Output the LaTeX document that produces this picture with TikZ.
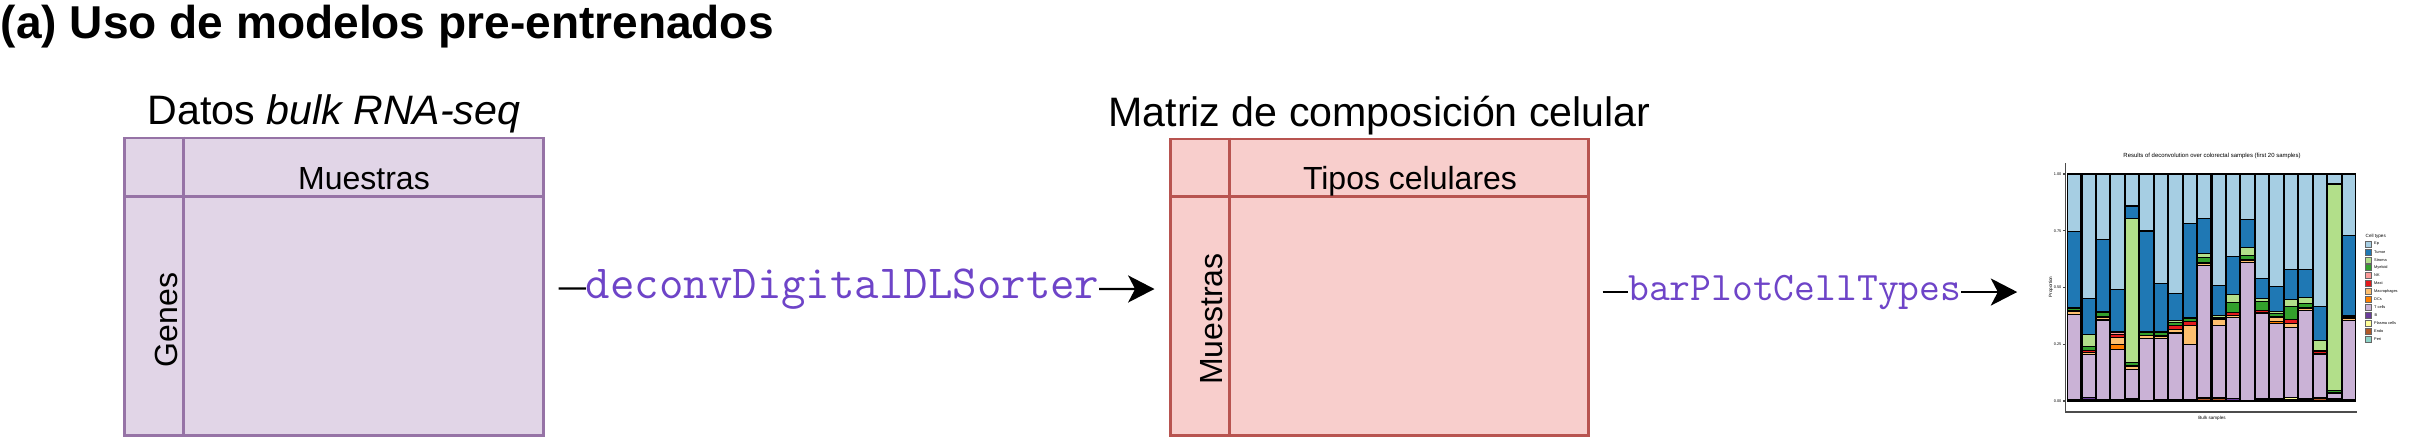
\documentclass[tikz,border=0pt]{standalone}
\usepackage{fontspec}
\setmainfont{Liberation Sans}
\usetikzlibrary{arrows.meta, positioning}

\definecolor{bulkfill}{HTML}{E1D5E7}
\definecolor{bulkline}{HTML}{9673A6}
\definecolor{compfill}{HTML}{F8CECC}
\definecolor{compline}{HTML}{B85450}
\definecolor{fncolor}{HTML}{6E44C8}
% colores de los tipos celulares
\definecolor{ct1}{HTML}{A6CEE3}
\definecolor{ct2}{HTML}{1F78B4}
\definecolor{ct3}{HTML}{B2DF8A}
\definecolor{ct4}{HTML}{33A02C}
\definecolor{ct5}{HTML}{FB9A99}
\definecolor{ct6}{HTML}{E31A1C}
\definecolor{ct7}{HTML}{FDBF6F}
\definecolor{ct8}{HTML}{FF7F00}
\definecolor{ct9}{HTML}{CAB2D6}
\definecolor{ct10}{HTML}{6A3D9A}
\definecolor{ct11}{HTML}{FFFF99}
\definecolor{ct12}{HTML}{B15928}
\definecolor{ct13}{HTML}{8DD3C7}

\tikzstyle{bulkmat} = [
  rectangle,
  draw=bulkline,
  fill=bulkfill,
  line width=0.8pt,
  minimum width=4.18cm,
  minimum height=2.97cm
]
\tikzstyle{compmat} = [
  rectangle,
  draw=compline,
  fill=compfill,
  line width=0.8pt,
  minimum width=4.17cm,
  minimum height=2.96cm
]
\tikzstyle{cellname} = [anchor=base, inner sep=0pt, font=\fontsize{9.1}{11}\selectfont]
\tikzstyle{fnname} = [fill=white, inner xsep=0pt, inner ysep=1pt, text=fncolor]
\tikzstyle{arrow} = [line width=0.6pt, -{Stealth[length=7.5pt, width=7.7pt, inset=2pt]}]
\tikzstyle{tiny} = [inner sep=0pt, font=\fontsize{1.3}{1.5}\selectfont]

\begin{document}
\begin{tikzpicture}[x=0.01cm, y=-0.01cm]
    \useasboundingbox (0,0) rectangle (2409,438);

    % Titulo
    \node (titulo) [anchor=base west, inner sep=0pt, font=\bfseries\fontsize{13.1}{15}\selectfont] at (0,38) {(a) Uso de modelos pre-entrenados};

    % Matriz bulk
    \node (bulk) [bulkmat] at (334,286.5) {};
    \draw [bulkline, line width=0.8pt] ([xshift=0.6cm]bulk.north west) -- ([xshift=0.6cm]bulk.south west);
    \draw [bulkline, line width=0.8pt] ([yshift=-0.6cm]bulk.north west) -- ([yshift=-0.6cm]bulk.north east);
    \node (bulktitle) [above=0.12cm of bulk.north, anchor=base, inner sep=0pt, font=\fontsize{11.7}{14}\selectfont] {Datos \textit{bulk RNA-seq}};
    \node (bulkcols) [cellname] at (364,189) {Muestras};
    \node (bulkrows) [cellname, rotate=90] at (177,320) {Genes};

    % Matriz de composicion
    \node (comp) [compmat] at (1379.5,287) {};
    \draw [compline, line width=0.8pt] ([xshift=0.6cm]comp.north west) -- ([xshift=0.6cm]comp.south west);
    \draw [compline, line width=0.8pt] ([yshift=-0.59cm]comp.north west) -- ([yshift=-0.59cm]comp.north east);
    \node (comptitle) [above=0.11cm of comp.north, anchor=base, inner sep=0pt, font=\fontsize{11.7}{14}\selectfont] {Matriz de composición celular};
    \node (compcols) [cellname] at (1410,189) {Tipos celulares};
    \node (comprows) [cellname, rotate=90] at (1222,319) {Muestras};

    % Grafico de barras
    \node (plot) [minimum width=3.69cm, minimum height=2.85cm, inner sep=0pt] at (2224,288) {};
    \node (plottitle) [tiny, font=\fontsize{1.7}{2}\selectfont] at (2212,156) {Results of deconvolution over colorectal samples (first 20 samples)};
    \foreach \vals [count=\b] in {
      {25.4,33.4,0.5,0.9,0,0.3,1.3,0,37.6,0.3,0,0.3,0},
      {54.9,15.9,5.1,1.8,0,1.0,1.0,0,18.8,0.9,0,0.6,0},
      {28.8,31.6,0.7,1.8,0,0.5,0.9,0,34.9,0.4,0,0.4,0},
      {50.7,18.5,0.3,0.3,0.7,1.5,2.9,2.6,21.9,0.4,0,0.2,0},
      {14.1,5.4,63.5,1.3,0,0.5,1.2,0,13.1,0.4,0,0.5,0},
      {25.1,44.4,0.3,1.2,0,0.3,1.3,0,27.1,0.3,0,0,0},
      {48.2,21.3,0.3,1.2,0,0.4,1.0,0,26.8,0.6,0,0.2,0},
      {52.6,11.8,1.2,1.2,0,1.8,1.2,0.4,29.1,0.7,0,0,0},
      {21.8,41.5,0.3,1.5,0,1.5,8.4,0,24.3,0.4,0,0.3,0},
      {19.6,15.4,1.8,2.1,0,0.6,0.9,0,57.9,0.4,0,1.3,0},
      {49.3,12.9,1.2,0.4,0,0.3,2.5,0.3,31.5,0.3,0,1.3,0},
      {36.2,16.8,3.8,4.0,0,1.5,0.7,0,36.0,1.0,0,0,0},
      {20.0,12.4,3.4,1.9,0,0.4,0.9,0,60.6,0.4,0,0,0},
      {45.9,9.0,1.3,4.1,0,0.9,0.4,0,37.5,0.6,0,0.3,0},
      {49.4,11.3,0.6,1.3,0,0.6,1.9,0.7,33.2,0.4,0,0.6,0},
      {42.1,13.2,3.2,5.6,0,1.8,1.8,0,30.6,0.3,0.7,0.6,0.1},
      {42.1,12.5,2.5,1.5,0,0.7,1.0,0,38.4,0.7,0,0.6,0},
      {58.5,14.7,4.4,0.7,0,0.7,0.7,0,18.8,0.4,0,0.7,0.4},
      {4.1,0.5,90.7,1.0,0,0.4,0,0,2.4,0.3,0,0.3,0.3},
      {27.2,35.0,0.4,0.7,0,0.3,1.0,0,34.7,0.4,0,0.3,0}}
    {
      \pgfmathsetmacro\xl{2067.5+(\b-1)*14.45}
      \pgfmathsetmacro\xr{\xl+13.4}
      \xdef\barsum{0}
      \foreach \v [count=\k] in \vals {
        \pgfmathsetmacro\newsum{\barsum+\v}
        \ifdim\v pt>0pt
          \filldraw [fill=ct\k, draw=black, line width=0.3pt] (\xl,{174+2.27*\barsum}) rectangle (\xr,{174+2.27*\newsum});
        \fi
        \xdef\barsum{\newsum}
      }
    }
    \draw [black!70, line width=0.3pt] (2065,163) -- (2065,412) -- (2357,412);
    \foreach \t [count=\i] in {1.00,0.75,0.50,0.25,0.00} {
      \draw [black!70, line width=0.3pt] (2063,{174+(\i-1)*56.75}) -- (2065,{174+(\i-1)*56.75});
      \node (tick\i) [tiny, anchor=east, font=\fontsize{1.1}{1.3}\selectfont] at (2062,{174+(\i-1)*56.75}) {\t};
    }
    \node (ylab) [tiny, rotate=90] at (2051,287) {Proportion};
    \node (xlab) [tiny] at (2212,418) {Bulk samples};

    % Leyenda
    \node (legtitle) [tiny, anchor=west] at (2365,236) {Cell types};
    \foreach \name [count=\k] in {Ep,Tumor,Stroma,Myeloid,NK,Mast,Macrophages,DCs,T cells,B,Plasma cells,Endo,Peri} {
      \filldraw [fill=ct\k, draw=black!60, line width=0.15pt] (2365,{241+(\k-1)*7.9}) rectangle (2371.5,{247+(\k-1)*7.9});
      \node (leg\k) [tiny, anchor=west, font=\fontsize{1.1}{1.3}\selectfont] at (2373.5,{244+(\k-1)*7.9}) {\name};
    }

    % Flechas
    \draw [arrow, shorten <=0.14cm, shorten >=0.15cm] ([yshift=-0.02cm]bulk.east) -- node[fnname, pos=0.477, font=\ttfamily\fontsize{13.5}{16}\selectfont] (deconv) {deconvDigitalDLSorter} ([yshift=-0.02cm]comp.west);
    \draw [arrow, shorten <=0.13cm, shorten >=0.215cm] ([yshift=-0.05cm]comp.east) -- node[fnname, pos=0.457, font=\ttfamily\fontsize{11.5}{14}\selectfont] (barplot) {barPlotCellTypes} ([yshift=-0.05cm]comp.east -| plot.west);

\end{tikzpicture}
\end{document}
